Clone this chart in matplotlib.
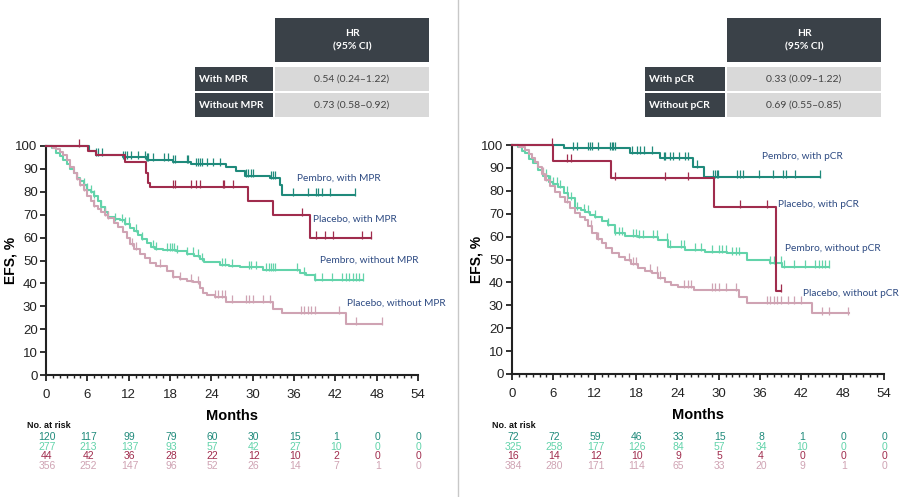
import matplotlib
matplotlib.use("Agg")
import matplotlib.pyplot as plt
from matplotlib.patches import Rectangle
import numpy as np

plt.rcParams['font.family'] = ['Liberation Sans Narrow', 'Liberation Sans', 'DejaVu Sans']

# ---------------- data ----------------
x_ticks = [0, 6, 12, 18, 24, 30, 36, 42, 48, 54]
y_ticks = [0, 10, 20, 30, 40, 50, 60, 70, 80, 90, 100]

# Left panel (MPR)
L_pw_t = [0, 6.2, 7.3, 11.2, 14.6, 18.5, 21.0, 26.2, 27.6, 28.9, 32.5, 34.0, 34.3]
L_pw_s = [100, 98, 96, 95, 94, 93, 92, 91, 89, 87, 86, 83, 78.5]
L_pw_end = 44.8
L_pw_c = [7.3, 7.6, 8.1, 11.2, 11.5, 11.7, 12.4, 13.4, 14.4, 14.6, 14.8, 15.6, 17.2, 17.7, 18.5,
          18.7, 20.4, 20.6, 21.8, 22.1, 22.3, 22.6, 23.3, 24.3, 25.2, 29.1, 29.3, 29.8, 30.1, 32.7,
          32.9, 33.2, 35.9, 38.0, 39.2, 39.5, 40.0, 41.2, 44.8]

L_plw_t = [0, 6.1, 7.3, 11.5, 14.5, 14.8, 15.1, 29.3, 32.9, 38.3]
L_plw_s = [100, 98, 96, 93, 88, 84, 82, 76, 70, 60]
L_plw_end = 47.2
L_plw_c = [4.8, 18.5, 18.7, 21.1, 21.8, 22.3, 25.7, 25.9, 27.2, 37.1, 39.2, 40.5, 41.7, 45.8, 47.2]

L_pwo_t = [0, 0.8, 1.5, 2.0, 2.5, 3.0, 3.5, 4.0, 4.5, 5.0, 5.5, 6.0, 6.5, 7.0, 7.5, 8.0, 8.5, 9.0,
           10.0, 10.7, 11.5, 12.2, 12.8, 13.4, 14.0, 14.6, 15.2, 15.8, 17.0, 18.8, 20.5, 21.5, 22.4,
           23.0, 25.3, 26.5, 28.2, 31.5, 36.8, 37.8, 39.0]
L_pwo_s = [100, 99, 97, 95.5, 94, 92, 90, 88, 86, 84.5, 83, 81, 80, 78, 76, 73.5, 71, 69, 68, 67.5,
           66, 64, 63, 61, 59.5, 57.5, 56, 55, 54.6, 54, 53, 52, 50.5, 49.5, 48, 47.5, 47, 45.9,
           44.4, 43.5, 41.5]
L_pwo_end = 46.0
L_pwo_c = [5.5, 6.0, 6.5, 7.0, 8.0, 8.5, 10.0, 11.0, 11.5, 12.0, 13.0, 14.0, 15.5, 16.0, 17.5, 18.0,
           18.3, 18.6, 19.0, 20.5, 21.3, 22.0, 22.6, 25.5, 26.0, 27.0, 29.5, 29.8, 30.5, 32.0, 32.3,
           32.6, 33.0, 33.3, 36.5, 37.5, 39.0, 40.0, 41.5, 43.0, 43.5, 44.0, 44.5, 45.0, 45.5, 46.0]

L_plwo_t = [0, 1.0, 1.5, 2.0, 2.5, 3.0, 3.5, 4.0, 4.5, 5.0, 5.5, 6.0, 6.5, 7.0, 7.5, 8.0, 8.5, 9.0,
            9.8, 10.5, 11.2, 11.7, 12.2, 12.8, 13.6, 14.3, 15.1, 16.0, 17.5, 18.5, 19.4, 20.4, 21.4,
            22.3, 22.8, 23.3, 24.5, 26.2, 33.0, 34.2, 43.5]
L_plwo_s = [100, 99, 98.5, 97.5, 96, 94, 91, 88, 85.5, 83, 81, 78, 76, 74, 72.5, 71, 70, 68.5, 66.5,
            64.5, 62.6, 60, 57, 55, 53, 51, 49, 47.5, 45.5, 43, 42, 41, 40.5, 38, 36, 35, 34, 32,
            29, 27, 22.2]
L_plwo_end = 48.8
L_plwo_c = [4.5, 5.0, 5.5, 7.0, 8.5, 9.0, 12.5, 13.0, 16.5, 18.5, 19.5, 21.0, 22.0, 24.5, 25.0, 25.5,
            26.0, 27.0, 29.0, 29.5, 30.0, 31.5, 32.5, 37.0, 37.5, 38.0, 38.5, 39.0, 42.5, 45.0, 48.8]

# Right panel (pCR)
R_pw_t = [0, 7.5, 17.1, 21.5, 26.3, 27.9]
R_pw_s = [100, 98.5, 96.4, 94.2, 90.5, 86.2]
R_pw_end = 44.7
R_pw_c = [8.9, 9.4, 11.1, 11.3, 11.6, 12.5, 14.2, 14.5, 14.7, 15.0, 17.4, 18.1, 18.6, 19.1, 20.3,
          22.0, 22.2, 23.0, 23.4, 24.2, 25.1, 25.6, 26.8, 29.2, 29.5, 29.7, 29.9, 32.6, 33.1, 33.6,
          35.8, 37.9, 39.4, 39.8, 41.1, 44.7]

R_plw_t = [0, 6.0, 14.4, 29.3, 38.3]
R_plw_s = [100, 93.2, 85.4, 73.1, 36.4]
R_plw_end = 39.0
R_plw_c = [5.8, 8.0, 8.5, 14.9, 22.2, 25.6, 33.1, 37.0, 39.0]

R_pwo_t = [0, 0.8, 1.5, 1.9, 2.5, 3.0, 3.8, 4.5, 5.3, 6.0, 6.7, 7.5, 8.2, 9.1, 10.0, 10.6, 11.3,
           12.0, 13.0, 14.0, 14.9, 16.4, 18.3, 21.2, 22.7, 25.1, 28.0, 31.2, 34.1, 37.5, 39.2]
R_pwo_s = [100, 99, 97.5, 96.4, 94, 92, 89, 86.5, 84, 83, 81.8, 79, 76.7, 72.3, 71.5, 70.9, 69.5,
           68.7, 67, 65.1, 61.4, 60.3, 60, 58.5, 55.6, 54.1, 53.4, 52.7, 49.8, 48.4, 46.9]
R_pwo_end = 46.0
R_pwo_c = [5.0, 5.5, 6.0, 6.5, 7.0, 8.0, 8.5, 9.5, 10.5, 11.0, 12.0, 14.0, 15.0, 15.5, 16.0, 17.5,
           18.0, 18.5, 19.0, 20.5, 21.0, 22.5, 23.0, 24.5, 25.0, 26.5, 27.5, 29.0, 30.0, 30.5, 31.0,
           32.0, 32.5, 33.0, 37.5, 38.0, 39.0, 39.5, 41.0, 42.5, 44.0, 44.5, 45.0, 45.5, 46.0]

R_plwo_t = [0, 1.0, 1.9, 2.4, 2.9, 3.4, 3.8, 4.3, 4.8, 5.5, 6.2, 7.0, 7.7, 8.4, 9.1, 9.8, 10.6, 11.1,
            11.6, 12.3, 13.0, 13.7, 14.5, 15.5, 16.4, 17.3, 18.3, 19.3, 20.3, 21.2, 22.2, 23.1, 24.1,
            26.4, 32.9, 34.1, 43.5]
R_plwo_s = [100, 99, 97.8, 96, 94.2, 92.5, 90.5, 87.5, 84.7, 82, 79.6, 77.5, 75.3, 72.5, 70.2, 68.5,
            67.2, 64.5, 61.4, 59, 57, 55, 52.7, 51, 49.8, 48, 46.1, 45, 44, 42, 40.3, 39, 38.1, 36.7,
            33.8, 30.9, 26.5]
R_plwo_end = 48.9
R_plwo_c = [4.5, 5.0, 8.0, 11.5, 12.5, 17.0, 17.5, 18.0, 20.0, 21.0, 21.5, 25.0, 25.5, 26.0, 29.0,
            29.5, 30.0, 31.0, 32.5, 37.0, 37.5, 38.0, 38.5, 39.0, 40.0, 41.0, 42.0, 45.0, 46.0, 48.8]

# Numbers at risk
L_risk_pw = [120, 117, 99, 79, 60, 30, 15, 1, 0, 0]
L_risk_pwo = [277, 213, 137, 93, 57, 42, 27, 10, 0, 0]
L_risk_plw = [44, 42, 36, 28, 22, 12, 10, 2, 0, 0]
L_risk_plwo = [356, 252, 147, 96, 52, 26, 14, 7, 1, 0]
R_risk_pw = [72, 72, 59, 46, 33, 15, 8, 1, 0, 0]
R_risk_pwo = [325, 258, 177, 126, 84, 57, 34, 10, 0, 0]
R_risk_plw = [16, 14, 12, 10, 9, 5, 4, 0, 0, 0]
R_risk_plwo = [384, 280, 171, 114, 65, 33, 20, 9, 1, 0]

L_labels = ["Pembro, with MPR", "Placebo, with MPR", "Pembro, without MPR", "Placebo, without MPR"]
R_labels = ["Pembro, with pCR", "Placebo, with pCR", "Pembro, without pCR", "Placebo, without pCR"]
L_table_rows = ["With MPR", "Without MPR"]
L_table_vals = ["0.54 (0.24\u20131.22)", "0.73 (0.58\u20130.92)"]
R_table_rows = ["With pCR", "Without pCR"]
R_table_vals = ["0.33 (0.09\u20131.22)", "0.69 (0.55\u20130.85)"]
table_header = "HR\n(95% CI)"

# ---------------- style ----------------
C_PW = "#1f8a7b"
C_PWO = "#62d3aa"
C_PLW = "#a02c4d"
C_PLWO = "#cfa3b3"
C_TXT = "#2d4a82"
C_DARK = "#3a4148"
C_LIGHT = "#d9d9d9"

W, H = 903, 497
fig = plt.figure(figsize=(W / 100, H / 100), dpi=100)


def frac(px0, py0, px1, py1):
    return [px0 / W, 1 - py1 / H, (px1 - px0) / W, (py1 - py0) / H]


def surv_at(ts, ss, t):
    idx = np.searchsorted(np.array(ts), t, side='right') - 1
    return np.array(ss)[idx]


def draw_curve(ax, ts, ss, end, cens, color):
    xs = list(ts) + [end]
    ys = list(ss) + [ss[-1]]
    ax.step(xs, ys, where='post', color=color, lw=1.5, clip_on=False, zorder=3)
    cy = [surv_at(ts, ss, c) + 1.2 for c in cens]
    ax.plot(cens, cy, linestyle='none', marker='|', color=color, markersize=6,
            markeredgewidth=0.9, clip_on=False, zorder=3)


def setup_axes(ax):
    ax.set_xlim(0, 54)
    ax.set_ylim(0, 100)
    ax.set_xticks(x_ticks)
    ax.set_xticks(np.arange(0, 55, 1), minor=True)
    ax.set_yticks(y_ticks)
    for s in ['top', 'right']:
        ax.spines[s].set_visible(False)
    for s in ['left', 'bottom']:
        ax.spines[s].set_linewidth(1.5)
        ax.spines[s].set_color('#222222')
    ax.tick_params(axis='both', which='major', direction='out', length=4, width=1.3,
                   labelsize=9.5, colors='#222222', pad=2)
    ax.tick_params(axis='x', which='minor', direction='out', length=2.5, width=1.0, colors='#222222')
    ax.tick_params(axis='x', which='major', pad=6)
    ax.set_ylabel("EFS, %", fontsize=10, fontweight='bold')
    ax.yaxis.set_label_coords(-0.076, 0.5)
    ax.set_xlabel("Months", fontsize=10.5, fontweight='bold', labelpad=6)


panels = [
    dict(pos=frac(46, 146, 418, 375),
         curves=[(L_pw_t, L_pw_s, L_pw_end, L_pw_c, C_PW),
                 (L_pwo_t, L_pwo_s, L_pwo_end, L_pwo_c, C_PWO),
                 (L_plwo_t, L_plwo_s, L_plwo_end, L_plwo_c, C_PLWO),
                 (L_plw_t, L_plw_s, L_plw_end, L_plw_c, C_PLW)],
         labels=L_labels, label_pos=[(36.4, 86), (38.8, 68), (39.8, 50), (43.7, 31.4)],
         risk=[L_risk_pw, L_risk_pwo, L_risk_plw, L_risk_plwo],
         table_rows=L_table_rows, table_vals=L_table_vals, tx=(195, 275, 429),
         risk_label_x=27),
    dict(pos=frac(512, 145, 884, 374),
         curves=[(R_pw_t, R_pw_s, R_pw_end, R_pw_c, C_PW),
                 (R_pwo_t, R_pwo_s, R_pwo_end, R_pwo_c, C_PWO),
                 (R_plwo_t, R_plwo_s, R_plwo_end, R_plwo_c, C_PLWO),
                 (R_plw_t, R_plw_s, R_plw_end, R_plw_c, C_PLW)],
         labels=R_labels, label_pos=[(36.3, 95), (38.6, 73.8), (39.6, 55), (42.3, 35)],
         risk=[R_risk_pw, R_risk_pwo, R_risk_plw, R_risk_plwo],
         table_rows=R_table_rows, table_vals=R_table_vals, tx=(645, 727, 881),
         risk_label_x=492),
]

# overlay axes in pixel coordinates
ov = fig.add_axes([0, 0, 1, 1], zorder=-1)
ov.set_xlim(0, W)
ov.set_ylim(H, 0)
ov.axis('off')
ov.plot([458, 458], [0, H], color='#c8c8c8', lw=1.0)

tfont = ['Lato', 'DejaVu Sans']
for p in panels:
    ax = fig.add_axes(p['pos'])
    setup_axes(ax)
    for ts, ss, end, cens, col in p['curves']:
        draw_curve(ax, ts, ss, end, cens, col)
    for lab, (lx, ly) in zip(p['labels'], p['label_pos']):
        ax.text(lx, ly, lab, color=C_TXT, fontsize=7.3, family=tfont, va='center', ha='left',
                clip_on=False)
    # numbers at risk
    risk_colors = [C_PW, C_PWO, C_PLW, C_PLWO]
    ax.text(p['risk_label_x'], 425, "No. at risk", transform=ov.transData, fontsize=6.5,
            fontweight='bold', va='center', ha='left', color='#111111')
    for r, (row, col) in enumerate(zip(p['risk'], risk_colors)):
        ypix = 437 + r * 9.7
        for xt, v in zip(x_ticks, row):
            xpix = ax.transData.transform((xt, 0))[0]
            ov.text(xpix + 1, ypix, str(v), fontsize=7.5, color=col, ha='center', va='center')
    # HR table
    x0, x1, x2 = p['tx']
    ov.add_patch(Rectangle((x1, 18), x2 - x1, 44, facecolor=C_DARK, edgecolor='none'))
    ov.text((x1 + x2) / 2, 40, table_header, color='white', fontsize=7.5, fontweight='bold',
            family=tfont, ha='center', va='center', linespacing=1.6)
    for i, (rl, rv) in enumerate(zip(p['table_rows'], p['table_vals'])):
        yt = 67 + i * 26
        ov.add_patch(Rectangle((x0, yt), x1 - x0 - 1.5, 23.5, facecolor=C_DARK, edgecolor='none'))
        ov.add_patch(Rectangle((x1, yt), x2 - x1, 23.5, facecolor=C_LIGHT, edgecolor='none'))
        ov.text(x0 + 4, yt + 12, rl, color='white', fontsize=7.5, fontweight='bold',
                family=tfont, ha='left', va='center')
        ov.text((x1 + x2) / 2, yt + 12, rv, color='#444444', fontsize=7.5,
                family=tfont, ha='center', va='center')

fig.savefig("out.png", dpi=100)
